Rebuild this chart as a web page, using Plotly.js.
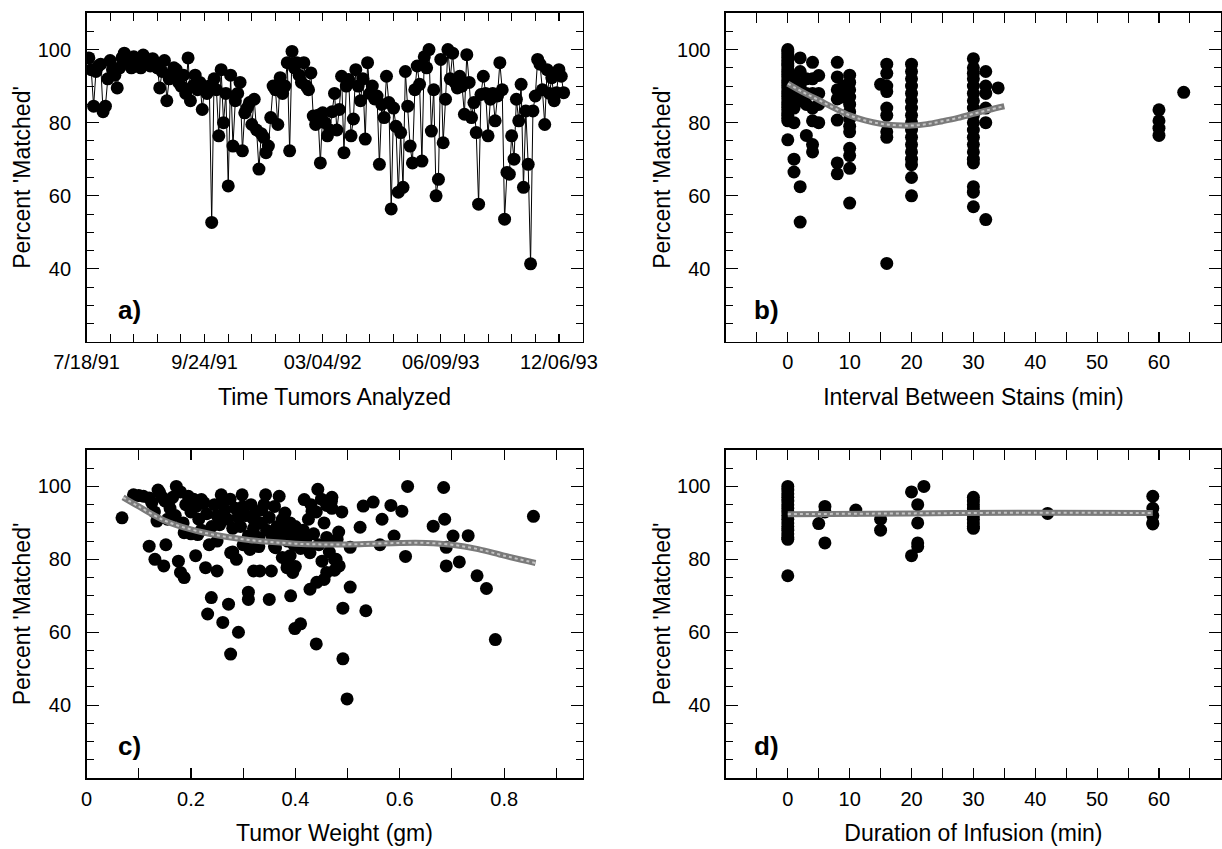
<!DOCTYPE html>
<html><head><meta charset="utf-8">
<script src="https://cdn.plot.ly/plotly-3.0.1.min.js"></script>
<style>html,body{margin:0;padding:0;background:#fff}#chart{width:1222px;height:849px}</style>
</head><body><div id="chart"></div>
<script>
// ---------- Panel a: percent matched over time (sequence of tumors) ----------
const timeTickValues = [0, 50, 100, 150, 200];
const timeTickLabels = ['7/18/91', '9/24/91', '03/04/92', '06/09/93', '12/06/93'];
const percentByTime = [
  97.7, 94.5, 84.5, 94, 95.5, 96, 83, 84.5, 92, 97,
  94.5, 93, 89.5, 95, 97.7, 99, 97, 96, 95, 98,
  97, 96.5, 95, 98.5, 97, 96, 95.5, 97.5, 96.5, 95,
  89.5, 94, 97, 86, 92, 93, 95, 94.5, 91, 90,
  93, 88, 97.7, 86, 90, 93, 89, 91, 83.6, 89.5,
  88, 90, 52.7, 92, 89, 76.4, 94.5, 80, 88, 62.7,
  93, 73.6, 86, 88, 91, 72.3, 82.7, 84, 85.5, 79.5,
  86.4, 78, 67.3, 77, 76, 71.8, 73.6, 81.4, 90, 89,
  79.5, 92.3, 88, 90, 96.4, 72.3, 99.5, 95, 96.4, 93,
  91, 96.4, 90, 89, 93.6, 81.8, 79.5, 82, 69, 82.7,
  80, 76.4, 78, 83, 88, 78, 83.6, 92.7, 71.8, 90,
  91.8, 76.4, 81, 94.5, 90, 86, 92, 75.5, 96.4, 88,
  90, 86.5, 87.3, 68.6, 85, 81.4, 92.7, 85.5, 56.4, 84,
  79, 61, 77.3, 62.3, 94, 84.5, 73.6, 69, 89, 95.5,
  90.5, 69.5, 98, 95, 100, 77.7, 89, 60, 64.5, 97.3,
  74.5, 86.4, 100, 92, 99, 91, 89.5, 92.7, 90, 82.3,
  98.6, 91, 81.4, 85.5, 77.3, 57.7, 87.7, 92.7, 88, 76.4,
  86.4, 88, 80.5, 87.3, 96.4, 89, 53.6, 66.4, 65.9, 76.4,
  70, 86.4, 80.5, 90.5, 62.3, 83.2, 68.6, 41.4, 83.2, 87.3,
  97.3, 96, 89, 79.5, 94.5, 88, 92.3, 86, 88.2, 94.5,
  92.7, 88.2
];
const tumorSequence = percentByTime.map((_, i) => i + 1);

// ---------- Panel b: interval between stains ----------
const intervalMin = [
  0,0,0,0,0,0,0,0,0,0,0,0,0,0,0,0,0,0,0,0,0,0,0,0,0,0,0,0,
  1,1,1,1,1,1,
  2,2,2,2,2,2,
  3,3,3,3,
  4,4,4,4,4,4,4,
  5,5,5,5,
  8,8,8,8,8,8,8,
  9,9,9,
  10,10,10,10,10,10,10,10,10,10,10,10,10,
  15,
  16,16,16,16,16,16,16,16,16,
  20,20,20,20,20,20,20,20,20,20,20,20,20,20,20,20,20,
  30,30,30,30,30,30,30,30,30,30,30,30,30,30,30,30,30,30,30,
  32,32,32,32,32,32,
  34,
  60,60,60,60,
  64
];
const percentByInterval = [
  100, 99.3, 98.5, 97.8, 97, 96.2, 95.5, 94.7, 94, 93.2, 92.5, 91.7, 91, 90.2, 89.5, 88.7, 88, 87.2, 86.5, 85.7, 85, 84.2, 83.5, 82.7, 82, 81.2, 80.5, 75.3,
  92, 88, 84, 80, 70, 66.5,
  97.7, 94, 90, 86, 62.5, 52.8,
  92, 88, 85, 76.5,
  96.5, 92, 88, 84, 80.5, 74, 72,
  92.9, 88, 85, 80,
  96.5, 92.5, 89, 86.5, 80.7, 69, 66,
  90, 88.5, 87,
  93, 91, 89, 87, 85, 83, 81, 79, 77.5, 73, 71, 67.5, 58,
  90.5,
  96, 93.5, 90, 88.5, 84, 82, 77.5, 76, 41.5,
  96, 94, 92, 90, 88, 86, 84, 82, 80, 78, 76, 74, 72, 70, 68.5, 65, 60,
  97.5, 95, 93.5, 92, 90, 88, 86, 84, 82, 80, 78, 76, 74, 72, 70, 69, 62.5, 61, 57,
  94, 90, 88, 84, 80, 53.5,
  89.5,
  83.5, 80.5, 78.5, 76.5,
  88.3
];
const intervalFitX = [0, 2.5, 5, 7.5, 10, 12.5, 15, 17.5, 20, 22.5, 25, 27.5, 30, 32.5, 35];
const intervalFitY = [90.7, 88.3, 86.2, 84, 82, 80.6, 79.7, 79.3, 79.2, 79.6, 80.4, 81.3, 82.4, 83.5, 84.5];

// ---------- Panel c: tumor weight ----------
const tumorWeight = [
  0.068, 0.09, 0.109, 0.12, 0.131, 0.135, 0.137, 0.148, 0.152, 0.157,
  0.172, 0.176, 0.18, 0.187, 0.187, 0.195, 0.209, 0.213, 0.22, 0.228,
  0.232, 0.235, 0.239, 0.25, 0.258, 0.261, 0.272, 0.276, 0.276, 0.287,
  0.291, 0.298, 0.31, 0.31, 0.313, 0.32, 0.32, 0.332, 0.336, 0.343,
  0.35, 0.354, 0.362, 0.369, 0.38, 0.384, 0.391, 0.395, 0.399, 0.41,
  0.417, 0.428, 0.428, 0.44, 0.443, 0.441, 0.451, 0.46, 0.469, 0.47,
  0.483, 0.484, 0.489, 0.491, 0.491, 0.499, 0.505, 0.505, 0.524, 0.53,
  0.535, 0.549, 0.562, 0.566, 0.583, 0.589, 0.604, 0.611, 0.615, 0.664,
  0.684, 0.686, 0.689, 0.689, 0.702, 0.714, 0.731, 0.748, 0.766, 0.783,
  0.856, 0.478, 0.432, 0.46,
  0.1, 0.12, 0.14, 0.15, 0.16, 0.165, 0.18, 0.19, 0.2, 0.205,
  0.21, 0.215, 0.225, 0.23, 0.24, 0.245, 0.25, 0.255, 0.26, 0.265,
  0.27, 0.275, 0.28, 0.285, 0.29, 0.295, 0.3, 0.305, 0.31, 0.315,
  0.32, 0.325, 0.33, 0.335, 0.34, 0.345, 0.35, 0.355, 0.36, 0.365,
  0.37, 0.375, 0.38, 0.385, 0.39, 0.393, 0.397, 0.4, 0.405, 0.41,
  0.415, 0.42, 0.425, 0.43, 0.435, 0.44, 0.445, 0.45, 0.455, 0.46,
  0.465, 0.47, 0.475, 0.48, 0.385, 0.39, 0.4, 0.375, 0.36, 0.33,
  0.32, 0.3, 0.28, 0.25, 0.22, 0.2, 0.185, 0.17, 0.155, 0.125,
  0.13, 0.145, 0.455, 0.475
];
const percentByWeight = [
  91.4, 97.7, 97.3, 83.6, 80, 90.5, 99, 78.2, 84, 95.5,
  100, 79.5, 76.4, 75, 87.3, 97.3, 81, 86.8, 96.4, 77.7,
  65, 84, 69.5, 76.8, 97.7, 62.7, 67.7, 54, 81.8, 80,
  60, 97.7, 71, 69, 82.7, 91, 76.8, 76.8, 93.6, 97.7,
  69, 76.8, 83.2, 97.3, 92.7, 77.7, 70, 76.4, 61, 62.3,
  96.4, 81.8, 71.8, 56.8, 99.2, 73.7, 79.5, 76.4, 95.9, 97,
  87.5, 78.2, 93, 66.6, 52.7, 41.7, 83.3, 72.4, 88.8, 94.6,
  65.9, 95.7, 84, 91, 94.8, 86.4, 93.2, 80.8, 100, 89.1,
  99.7, 91, 83.3, 78.2, 86.4, 79.3, 86.5, 75.5, 72, 58,
  91.8, 80, 93.2, 94.8,
  97.5, 96.8, 98.3, 96, 94, 97, 98.5, 95, 93, 96.5,
  94.5, 91, 95.5, 92.5, 89, 95, 92, 89.5, 96, 93.5,
  91, 96.5, 88.5, 94, 91.5, 89, 94.5, 92, 86.5, 95,
  88.5, 93, 86, 90, 95, 88, 91.5, 86.5, 94.5, 89,
  86, 91, 88, 85, 90, 87, 84, 89, 86, 83,
  88, 85.5, 91, 95, 87, 93, 84, 96.5, 90, 86,
  82, 94, 80, 85.5, 79, 81, 78, 80.5, 83.5, 83.5,
  86, 84, 82, 85, 88, 87, 90, 92, 91, 95.5,
  93, 97, 74.5, 77
];
const weightFitX = [0.07, 0.1, 0.15, 0.2, 0.25, 0.3, 0.35, 0.4, 0.45, 0.5, 0.55, 0.6, 0.65, 0.7, 0.75, 0.8, 0.86];
const weightFitY = [97, 94.5, 90.6, 88.2, 86.6, 85.5, 84.8, 84.3, 84.1, 84.1, 84.3, 84.5, 84.5, 84, 82.8, 81, 79];

// ---------- Panel d: duration of infusion ----------
const infusionMin = [
  0,0,0,0,0,0,0,0,0,0,0,0,0,0,0,0,0,
  5, 6,6,6, 11, 15,15, 20,20, 21,21,21,21, 22,
  30,30,30,30,30,30,30,30,30,30,
  42,
  59,59,59,59,59
];
const percentByInfusion = [
  100, 99, 98, 97, 96, 95, 94, 93, 92, 91, 90, 89, 88, 87, 86, 85.5, 75.5,
  89.8, 94.5, 93, 84.5, 93.5, 91, 88, 98.5, 81, 95, 90, 84.5, 83.5, 100,
  97, 96, 95, 94, 93, 92, 91, 90, 89, 88.5,
  92.6,
  97.3, 94, 92, 90, 89.7
];
const infusionFitX = [0, 20, 40, 59];
const infusionFitY = [92.4, 92.6, 92.8, 92.7];

const panelLabels = ['a)', 'b)', 'c)', 'd)'];
const xTitles = ['Time Tumors Analyzed', 'Interval Between Stains (min)', 'Tumor Weight (gm)', 'Duration of Infusion (min)'];
const yTitle = "Percent 'Matched'";

// ---------- styling ----------
const FONT = 'Liberation Sans, Arial, Helvetica, sans-serif';
const tickFont = {family: FONT, size: 20, color: '#000'};
const titleFont = {family: FONT, size: 23, color: '#000'};
const dot = {color: '#000', size: 13, line: {width: 0}};

function dotTrace(x, y, n) {
  return {x, y, type: 'scatter', mode: 'markers', marker: dot,
          xaxis: 'x' + (n > 1 ? n : ''), yaxis: 'y' + (n > 1 ? n : ''), hoverinfo: 'skip'};
}
function fitTraces(x, y, n) {
  const ax = n > 1 ? n : '';
  return [
    {x, y, type: 'scatter', mode: 'lines', line: {color: '#7a7a7a', width: 6, shape: 'spline'},
     xaxis: 'x' + ax, yaxis: 'y' + ax, hoverinfo: 'skip'},
    {x, y, type: 'scatter', mode: 'lines', line: {color: '#c4c4c4', width: 2, dash: 'dot', shape: 'spline'},
     xaxis: 'x' + ax, yaxis: 'y' + ax, hoverinfo: 'skip'}
  ];
}

const traces = [
  {x: tumorSequence, y: percentByTime, type: 'scatter', mode: 'lines+markers',
   line: {color: '#000', width: 1}, marker: dot, hoverinfo: 'skip'},
  dotTrace(intervalMin, percentByInterval, 2),
  ...fitTraces(intervalFitX, intervalFitY, 2),
  dotTrace(tumorWeight, percentByWeight, 3),
  ...fitTraces(weightFitX, weightFitY, 3),
  dotTrace(infusionMin, percentByInfusion, 4),
  ...fitTraces(infusionFitX, infusionFitY, 4)
];

function yAxis(domain, anchor) {
  return {
    domain, anchor, range: [20.01, 110], tick0: 0, dtick: 20,
    ticks: 'inside', ticklen: 12, tickwidth: 1.2, tickcolor: '#000',
    minor: {tick0: 0, dtick: 5, ticks: 'inside', ticklen: 7, tickwidth: 1, tickcolor: '#000', showgrid: false},
    showline: true, linecolor: '#000', linewidth: 1.5, mirror: 'ticks',
    showgrid: false, zeroline: false, tickfont: tickFont, ticklabelstandoff: 10,
    title: {text: yTitle, font: titleFont, standoff: 0}
  };
}
function xAxis(domain, anchor, extra, titleText) {
  return Object.assign({
    domain, anchor, ticks: 'inside', ticklen: 9, tickwidth: 1.2, tickcolor: '#000',
    showline: true, linecolor: '#000', linewidth: 1.5, mirror: 'ticks',
    showgrid: false, zeroline: false, tickfont: tickFont, ticklabelstandoff: 2,
    title: {text: titleText, font: titleFont, standoff: 16}
  }, extra);
}

const timeAlias = {};
timeTickValues.forEach((v, i) => { timeAlias[String(v)] = timeTickLabels[i]; });

const xdA = [0.0708, 0.4767], xdB = [0.5941, 0.9990];
const ydTop = [0.5972, 0.9847], ydBot = [0.0836, 0.4700];

const layout = {
  width: 1222, height: 849, margin: {l: 0, r: 0, t: 0, b: 0},
  paper_bgcolor: '#fff', plot_bgcolor: '#fff', showlegend: false,
  font: {family: FONT, color: '#000'},
  xaxis: xAxis(xdA, 'y', {range: [0, 210], tick0: 0, dtick: 50, labelalias: timeAlias, ticklen: 8,
    minor: {tick0: 0, dtick: 10, ticks: 'inside', ticklen: 8, tickwidth: 1, tickcolor: '#000', showgrid: false}}, xTitles[0]),
  yaxis: yAxis(ydTop, 'x'),
  xaxis2: xAxis(xdB, 'y2', {range: [-9.99, 69.99], tick0: 0, dtick: 10, ticklen: 10,
    minor: {tick0: 0, dtick: 5, ticks: 'inside', ticklen: 10, tickwidth: 1, tickcolor: '#000', showgrid: false}}, xTitles[1]),
  yaxis2: yAxis(ydTop, 'x2'),
  xaxis3: xAxis(xdA, 'y3', {range: [0, 0.95], tick0: 0, dtick: 0.2, ticklen: 10,
    minor: {tick0: 0, dtick: 0.1, ticks: 'inside', ticklen: 10, tickwidth: 1, tickcolor: '#000', showgrid: false}}, xTitles[2]),
  yaxis3: yAxis(ydBot, 'x3'),
  xaxis4: xAxis(xdB, 'y4', {range: [-9.99, 69.99], tick0: 0, dtick: 10, ticklen: 10,
    minor: {tick0: 0, dtick: 5, ticks: 'inside', ticklen: 10, tickwidth: 1, tickcolor: '#000', showgrid: false}}, xTitles[3]),
  yaxis4: yAxis(ydBot, 'x4'),
  annotations: panelLabels.map((t, i) => {
    const n = i === 0 ? '' : String(i + 1);
    return {text: '<b>' + t + '</b>', xref: 'x' + n + ' domain', yref: 'y' + n + ' domain',
            x: (i % 2 === 0) ? 0.06 : 0.053, y: 0.097, xanchor: 'left', yanchor: 'middle',
            showarrow: false, font: {family: FONT, size: 26, color: '#000'}};
  })
};

Plotly.newPlot('chart', traces, layout, {staticPlot: true, displayModeBar: false});
</script>
</body></html>
